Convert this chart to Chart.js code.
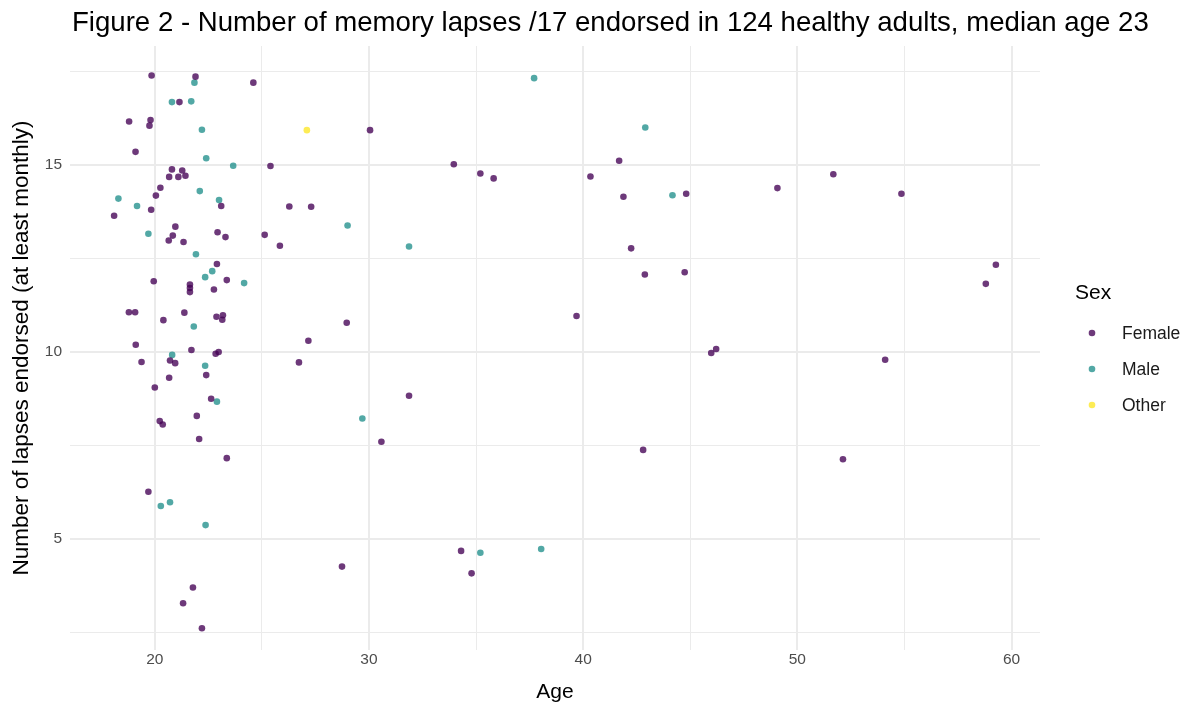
<!DOCTYPE html>
<html>
<head>
<meta charset="utf-8">
<script src="https://cdn.jsdelivr.net/npm/chart.js@4.4.1/dist/chart.umd.min.js"></script>
<style>
  html, body { margin: 0; padding: 0; background: #fff; }
  #wrap { width: 1188px; height: 711px; }
</style>
</head>
<body>
<div id="wrap"><canvas id="lapsesChart" width="1188" height="711"></canvas></div>
<script>
  // values (jittered ages / counts)
  const femaleAge = [19.85, 21.9, 24.6, 21.15, 18.8, 19.8, 19.75, 19.1, 25.4, 20.8, 21.28, 20.67, 21.1, 21.43, 20.26, 20.05, 23.1, 18.1, 19.83, 20.96,
    20.84, 20.65, 21.34, 22.93, 23.3, 25.13, 25.84, 22.9, 23.36, 19.95, 21.64, 21.64, 21.64, 22.76, 18.79, 19.08, 20.4, 21.38, 22.88, 23.18,
    23.15, 19.11, 21.71, 22.84, 22.98, 19.38, 20.71, 20.95, 22.4, 20.67, 20.0, 22.63, 21.96, 20.23, 20.37, 22.07, 23.36, 19.7, 21.78, 21.32,
    22.2, 30.05, 26.28, 27.3, 28.96, 27.17, 26.73, 31.87, 30.58, 28.74, 41.68, 33.96, 35.2, 35.82, 40.34, 41.88, 44.81, 42.24, 42.88, 44.74,
    39.69, 45.98, 46.21, 42.8, 34.3, 34.79, 49.07, 51.68, 54.86, 59.27, 58.8, 54.1, 52.13];
  const femaleLapses = [17.39, 17.36, 17.2, 16.68, 16.16, 16.2, 16.05, 15.35, 14.97, 14.88, 14.85, 14.68, 14.68, 14.71, 14.39, 14.18, 13.9, 13.64, 13.8, 13.35,
    13.11, 12.98, 12.94, 13.2, 13.07, 13.13, 12.84, 12.35, 11.92, 11.89, 11.8, 11.71, 11.6, 11.67, 11.06, 11.06, 10.85, 11.05, 10.94, 10.98,
    10.86, 10.19, 10.05, 9.95, 10.0, 9.73, 9.77, 9.7, 9.38, 9.31, 9.05, 8.75, 8.29, 8.15, 8.06, 7.67, 7.16, 6.26, 3.7, 3.28,
    2.61, 15.93, 13.89, 13.88, 10.78, 10.3, 9.72, 8.83, 7.6, 4.26, 15.11, 15.02, 14.77, 14.64, 14.69, 14.15, 14.23, 12.77, 12.07, 12.13,
    10.96, 9.97, 10.08, 7.38, 4.68, 4.08, 14.38, 14.75, 14.23, 12.33, 11.82, 9.79, 7.13];

  const maleAge = [21.85, 20.8, 21.7, 22.2, 22.4, 23.66, 22.1, 23.0, 18.3, 19.17, 19.7, 21.92, 22.68, 22.35, 24.17, 21.82, 20.81, 22.35, 22.9, 20.28,
    20.71, 22.37, 29.0, 31.87, 29.69, 37.71, 42.9, 44.17, 35.2, 38.04];
  const maleLapses = [17.2, 16.68, 16.7, 15.94, 15.18, 14.98, 14.3, 14.06, 14.1, 13.9, 13.16, 12.61, 12.16, 12.0, 11.84, 10.68, 9.92, 9.63, 8.67, 5.88,
    5.98, 5.37, 13.38, 12.82, 8.22, 17.32, 16.0, 14.19, 4.63, 4.73];

  const otherAge = [27.1];
  const otherLapses = [15.93];

  const sexLabels = ['Female', 'Male', 'Other'];
  const sexColors = ['rgba(68,1,84,0.78)', 'rgba(33,144,140,0.78)', 'rgba(253,231,37,0.78)'];

  const xTicks = [20, 25, 30, 35, 40, 45, 50, 55, 60];
  const xTickLabels = ['20', '', '30', '', '40', '', '50', '', '60'];
  const yTicks = [2.5, 5, 7.5, 10, 12.5, 15, 17.5];
  const yTickLabels = ['', '5', '', '10', '', '15', ''];

  function toPoints(xs, ys) {
    return xs.map((x, i) => ({ x: x, y: ys[i] }));
  }

  const seriesData = [toPoints(femaleAge, femaleLapses), toPoints(maleAge, maleLapses), toPoints(otherAge, otherLapses)];

  const gridColor = '#ebebeb';
  const fontFam = "'Liberation Sans', Arial, sans-serif";

  // title + legend drawn by hand to sit where ggplot puts them
  const ggExtras = {
    id: 'ggExtras',
    afterDraw(chart) {
      const ctx = chart.ctx;
      ctx.save();
      ctx.fillStyle = '#000';
      ctx.font = '27.6px ' + fontFam;
      ctx.textBaseline = 'alphabetic';
      ctx.textAlign = 'left';
      ctx.fillText('Figure 2 - Number of memory lapses /17 endorsed in 124 healthy adults, median age 23', 72, 31);

      ctx.font = '21px ' + fontFam;
      ctx.textBaseline = 'middle';
      ctx.fillText('Sex', 1075, 293);
      ctx.font = '17.5px ' + fontFam;
      sexLabels.forEach((lab, i) => {
        const y = 333 + i * 36;
        ctx.beginPath();
        ctx.arc(1092, y, 3.3, 0, Math.PI * 2);
        ctx.fillStyle = sexColors[i];
        ctx.fill();
        ctx.fillStyle = '#1a1a1a';
        ctx.fillText(lab, 1122, y + 1);
      });
      ctx.restore();
    }
  };

  new Chart(document.getElementById('lapsesChart'), {
    type: 'scatter',
    data: {
      datasets: sexLabels.map((lab, i) => ({
        label: lab,
        data: seriesData[i],
        backgroundColor: sexColors[i],
        borderWidth: 0,
        pointRadius: 3.3,
        pointHoverRadius: 3.3
      }))
    },
    options: {
      responsive: false,
      animation: false,
      layout: { padding: { top: 46, right: 148, left: 0, bottom: 0 } },
      plugins: {
        legend: { display: false },
        tooltip: { enabled: false }
      },
      scales: {
        x: {
          type: 'linear',
          min: 16.04,
          max: 61.33,
          afterFit: s => { s.height = 61; },
          afterBuildTicks: s => { s.ticks = xTicks.map(v => ({ value: v })); },
          border: { display: false },
          grid: {
            color: gridColor,
            drawTicks: false,
            lineWidth: c => (c.tick && c.tick.value % 10 === 0 ? 2 : 1)
          },
          ticks: {
            padding: 0,
            color: '#4d4d4d',
            font: { family: fontFam, size: 15.5 },
            callback: (v, i) => xTickLabels[i]
          },
          title: {
            display: true,
            text: 'Age',
            color: '#000',
            font: { family: fontFam, size: 21 },
            padding: { top: 0, bottom: 6 }
          }
        },
        y: {
          type: 'linear',
          min: 2.03,
          max: 18.18,
          afterFit: s => { s.width = 70; },
          afterBuildTicks: s => { s.ticks = yTicks.map(v => ({ value: v })); },
          border: { display: false },
          grid: {
            color: gridColor,
            drawTicks: false,
            lineWidth: c => (c.tick && c.tick.value % 5 === 0 ? 2 : 1)
          },
          ticks: {
            padding: 8,
            color: '#4d4d4d',
            font: { family: fontFam, size: 15.5 },
            callback: (v, i) => yTickLabels[i]
          },
          title: {
            display: true,
            text: 'Number of lapses endorsed (at least monthly)',
            color: '#000',
            font: { family: fontFam, size: 22.5 },
            padding: { top: 8, bottom: 0 }
          }
        }
      }
    },
    plugins: [ggExtras]
  });
</script>
</body>
</html>
